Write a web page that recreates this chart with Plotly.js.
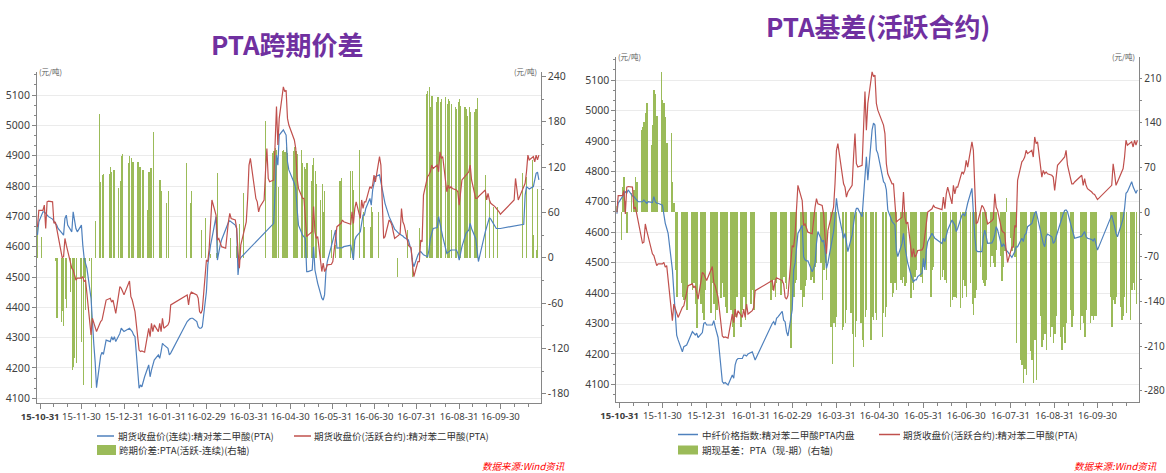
<!DOCTYPE html>
<html><head><meta charset="utf-8">
<script src="https://cdn.plot.ly/plotly-3.0.1.min.js"></script>
<style>html,body{margin:0;padding:0;background:#fff}#chart{width:1166px;height:473px}</style>
</head><body><div id="chart"></div>
<script>
// Week starts (Mondays) of the trading weeks shown; each data row = Mon..Fri of that week
const weekStarts = ['2015-10-26','2015-11-02','2015-11-09','2015-11-16','2015-11-23','2015-11-30','2015-12-07','2015-12-14','2015-12-21','2015-12-28',
'2016-01-04','2016-01-11','2016-01-18','2016-01-25','2016-02-01','2016-02-15','2016-02-22','2016-02-29','2016-03-07','2016-03-14','2016-03-21','2016-03-28',
'2016-04-04','2016-04-11','2016-04-18','2016-04-25','2016-05-02','2016-05-09','2016-05-16','2016-05-23','2016-05-30','2016-06-06','2016-06-13','2016-06-20','2016-06-27',
'2016-07-04','2016-07-11','2016-07-18','2016-07-25','2016-08-01','2016-08-08','2016-08-15','2016-08-22','2016-08-29','2016-09-05','2016-09-12','2016-09-19','2016-09-26',
'2016-10-10','2016-10-17','2016-10-24'];

// 期货收盘价(活跃合约):精对苯二甲酸(PTA)  (both charts)
const activeClose = [
[null,null,null,4665,4720],[4720,4737,4660,4748,4750],[4748,4677,4682,4660,4638],[4564,4567,4627,4605,4584],[4529,4523,4507,4490,4496],
[4496,4501,4485,4490,4450],[4309,4364,4347,4336,4320],[4353,4358,4380,4408,4424],[4430,4417,4424,4397,4380],[4468,4463,4452,4441,null],
[4487,4435,4424,4408,4386],[4259,4254,4256,4254,4252],[4331,4303,4347,4320,4342],[4320,4347,4320,4364,4331],[4342,4353,4408,null,null],
[4441,4408,4441,4450,4448],[4441,4430,4386,4380,4392],[4556,4551,4595,4682,4754],[4704,4622,4627,4616,4600],[4595,4649,4682,4710,4693],
[4688,4660,4584,4529,4605],[4671,4682,4759,4869,4891],[null,4759,4748,4715,4732],[4754,4847,4924,4825,4814],[4820,4935,5062,4935,5023],
[5127,5111,5116,5023,5001],[null,4952,4924,4825,4792],[4759,4759,4693,4633,4638],[4649,4732,4649,4627,4633],[4518,4546,4518,4526,4540],
[4542,4551,4589,4616,4666],[4677,4688,4682,null,null],[4674,4715,4677,4726,4748],[4693,4754,4726,4748,4748],[4798,4792,4803,4836,4814],
[4897,4869,4748,4627,4633],[4688,4682,4671,4649,4627],[4638,4644,4726,4682,4671],[4605,4600,4597,4540,4501],[4551,4551,4622,4616,4770],
[4831,4837,4847,4869,4858],[4869,4847,4913,4891,4897],[4781,4803,4792,4798,4792],[4787,4781,4737,4781,4820],[4836,4842,4847,4869,4820],
[4759,4759,4765,null,null],[4787,4754,4776,4754,4743],[4732,4726,4724,4715,4707],[4754,4825,4792,4754,4765],[4798,4809,4847,4902,4886],
[4897,4880,4902,4886,4902]];

// 期货收盘价(连续):精对苯二甲酸(PTA)
const continuousClose = [
[null,null,null,4638,4682],[4715,4715,4710,4704,4699],[4691,4682,4677,4671,4660],[4644,4638,4693,4704,4671],[4649,4715,4688,4660,4649],
[4671,4605,4562,4545,4529],[4430,4342,4280,4220,4135],[4240,4252,4245,4276,4292],[4287,4303,4292,4303,4287],[4314,4331,4325,4320,null],
[4331,4325,4320,4309,4303],[4133,4144,4138,4155,4171],[4210,4171,4193,4210,4226],[4243,4232,4254,4281,4276],[4265,4243,4249,null,null],
[4353,4358,4362,4364,4364],[4353,4336,4331,4331,4336],[4452,4540,4584,4605,4627],[4699,4556,4584,4605,4622],[4660,4671,4680,4685,4682],
[4671,4660,4507,4556,4564],[null,null,null,null,null],[null,null,null,null,null],[null,null,null,null,null],[4677,4781,4902,4869,4968],
[4985,4974,4968,4880,4853],[null,4809,4792,4726,4671],[4638,4633,4627,4518,4518],[4523,4600,4523,4496,4479],[4430,4424,4441,4518,4551],
[4605,4627,4644,4655,4595],[4595,4597,4600,null,null],[4605,4584,4556,4622,4633],[4649,4682,4704,4704,4726],[4759,4737,4787,4809,4831],
[4837,4814,4787,4759,4743],[4699,4688,4677,4666,4658],[4644,4642,4638,4635,4630],[4622,4605,4589,4551,4534],[4573,4581,4584,4578,4573],
[4567,4589,4627,4649,4660],[4663,4699,4677,4649,4633],[4578,4581,4586,4589,4589],[4589,4578,4556,4578,4600],[4644,4649,4655,4677,4660],
[4627,4589,4551,null,null],[4649,4666,4682,4696,4691],[4666,4660,4660,4660,4660],[null,null,null,null,null],[4674,4770,4798,4792,4790],
[4798,4820,4842,4846,4820]];

// 跨期价差:PTA(活跃-连续)(右轴)
const calendarSpread = [
[null,null,null,0,43],[28,0,0,0,0],[0,0,0,-5,-80],[-85,-71,-91,-54,-67],[-45,-149,-144,-133,-139],
[-27,-111,-168,-27,-69],[-5,-173,0,0,48],[190,100,109,111,0],[111,120,114,116,116],[92,101,134,137,null],
[125,135,132,127,127],[127,120,120,116,116],[63,114,119,119,167],[0,0,103,88,0],[72,88,0,null,null],
[125,0,0,73,88],[0,0,0,0,37],[52,0,0,0,5],[0,6,112,0,0],[0,0,0,0,26],
[0,0,15,0,44],[85,0,0,0,0],[null,0,0,0,0],[0,0,181,0,0],[138,141,145,142,93],
[141,142,140,147,139],[null,141,147,141,137],[142,125,120,118,125],[101,123,132,115,98],[76,98,61,88,0],
[0,37,0,0,17],[102,105,0,null,null],[0,115,115,89,0],[142,0,0,61,41],[0,41,67,61,0],
[61,0,0,0,0],[0,0,0,0,0],[-25,0,0,0,0],[37,0,0,0,-26],[0,0,39,0,0],
[217,220,226,200,214],[206,213,213,206,210],[213,204,210,208,204],[200,197,206,210,201],[200,197,188,200,193],
[193,197,211,null,null],[0,109,0,0,76],[67,0,0,67,0],[0,0,0,0,0],[112,0,0,107,0],
[129,30,0,10,91]];

// 中纤价格指数:精对苯二甲酸PTA内盘
const spotIndex = [
[null,null,null,4660,4695],[4717,4728,4733,4728,4739],[4719,4717,4711,4706,4700],[4700,4706,4700,4695,4700],[4697,4717,4700,4695,4695],
[4689,4651,4629,4613,4596],[4476,4410,4322,4262,4246],[4207,4224,4226,4229,4240],[4273,4268,4262,4268,4254],[4270,4300,4303,4295,null],
[4295,4309,4289,4268,4254],[4109,4103,4106,4103,4098],[4131,4120,4164,4180,4185],[4185,4196,4196,4193,4200],[4207,4191,4180,null,null],
[4300,4306,4295,4317,4322],[4340,4311,4306,4273,4259],[4345,4476,4498,4541,4596],[4623,4519,4509,4506,4506],[4470,4481,4498,4563,4602],
[4569,4574,4541,4481,4498],[4574,4602,4651,4711,4673],[null,4580,4596,4558,4536],[4591,4629,4662,4678,4678],[4651,4717,4782,4848,4771],
[4936,4958,4952,4870,4859],[null,4766,4760,4739,4673],[4635,4629,4624,4541,4520],[4563,4596,4552,4520,4498],[4448,4437,4443,4443,4454],
[4465,4514,4476,4541,4569],[4596,4585,4580,null,null],[4563,4580,4569,4585,4607],[4640,4629,4624,4602,4613],[4656,4660,4653,4673,4695],
[4744,4651,4585,4541,4536],[4536,4585,4607,4585,4563],[4565,4574,4591,4618,4607],[4552,4561,4555,4541,4536],[4517,4525,4536,4552,4552],
[4580,4569,4591,4596,4618],[4629,4645,4662,4668,4645],[4585,4563,4552,4585,4594],[4585,4563,4569,4585,4602],[4645,4660,4671,4673,4667],
[4613,4596,4580,null,null],[4587,4594,4602,4585,4580],[4576,4571,4580,4555,4541],[4656,4640,4618,4596,4585],[4629,4645,4678,4728,4733],
[4766,4749,4739,4728,4739]];

// 期现基差：PTA（现-期）(右轴)
const basis = [
[null,null,null,4,10],[-43,40,56,17,-33],[30,0,35,56,48],[129,134,142,155,171],[105,137,192,186,151],
[220,176,171,150,108],[124,48,14,-90,-132],[-111,-132,-137,-135,-153],[-114,-122,-111,-143,-182],[-143,-158,-169,-122,null],
[-158,-111,-143,-169,-153],[-135,-111,-132,-148,-158],[-153,-179,-195,-164,-132],[-179,-153,-132,-169,-148],[-143,-122,-153,null,null],
[-137,-122,-106,-132,-111],[-130,-111,-101,-111,-120],[-213,-137,-132,-111,-106],[-122,-148,-132,-116,-106],[-106,-101,-111,-85,-80],
[-80,-137,-90,-80,-106],[-179,-237,-174,-179,-164],[null,-184,-179,-174,-153],[-158,-190,-242,-195,-170],[-174,-200,-211,-164,-153],
[-200,-164,-169,-158,-169],[null,-195,-158,-164,-148],[-111,-132,-127,-111,-122],[-106,-111,-101,-116,-111],[-135,-111,-122,-101,-90],
[-101,-111,-85,-80,-90],[-132,-90,-85,null,null],[-106,-101,-90,-106,-111],[-148,-137,-132,-132,-135],[-150,-135,-106,-116,-132],
[-111,-143,-161,-135,-122],[-85,-106,-111,-116,-106],[-85,-69,-80,-85,-59],[-69,-108,-85,-60,22],[-40,-60,-55,-70,-205],
[-231,-240,-268,-245,-255],[-218,-231,-268,-200,-263],[-163,-211,-200,-190,-216],[-195,-180,-205,-190,-163],[-195,-216,-179,-205,-174],
[-153,-179,-163,null,null],[-184,-163,-174,-195,-153],[-174,-163,-169,-163,-163],[-132,-179,-137,-143,-132],[-148,-169,-163,-132,-158],
[-169,-122,-111,-122,-143]];

const monthTicks = ['2015-10-31','2015-11-30','2015-12-31','2016-01-31','2016-02-29','2016-03-31','2016-04-30','2016-05-31','2016-06-30','2016-07-31','2016-08-31','2016-09-30'];
const monthLabels = ['<b>15-10-31</b>','15-11-30','15-12-31','16-01-31','16-02-29','16-03-31','16-04-30','16-05-31','16-06-30','16-07-31','16-08-31','16-09-30'];
const axisEnd = '2016-10-31';
const leftTicks = [-180,-120,-60,0,60,120,180,240];
const rightTicks = [-280,-210,-140,-70,0,70,140,210];

const DAY = 86400000;
function expand(rows) {
  const x = [], y = [];
  rows.forEach((r, i) => {
    const t0 = Date.parse(weekStarts[i] + 'T00:00:00Z');
    r.forEach((v, j) => { x.push(new Date(t0 + j * DAY).toISOString().slice(0, 10)); y.push(v); });
  });
  return {x, y};
}
function minorTicks() {
  const all = monthTicks.concat([axisEnd]).map(d => Date.parse(d + 'T00:00:00Z'));
  const out = [];
  for (let i = 0; i < all.length - 1; i++) {
    const a = all[i], b = all[i + 1];
    out.push(new Date(a + (b - a) / 3).toISOString().slice(0, 16).replace('T', ' '));
    out.push(new Date(a + 2 * (b - a) / 3).toISOString().slice(0, 16).replace('T', ' '));
  }
  return out;
}

const BLUE = '#4F81BD', RED = '#C0504D', GREEN = '#9BBB59', AX = '#868686';
const sp = expand(calendarSpread), cc = expand(continuousClose), ac = expand(activeClose);
const sx = expand(spotIndex), bs = expand(basis);

const traces = [
  {type: 'bar', x: sp.x, y: sp.y, xaxis: 'x', yaxis: 'y', marker: {color: GREEN, line: {width: 0}},
   width: 0.8 * DAY, offset: -1.2 * DAY, name: '跨期价差:PTA(活跃-连续)(右轴)'},
  {type: 'scatter', mode: 'lines', x: cc.x, y: cc.y, xaxis: 'x', yaxis: 'y2', connectgaps: true,
   line: {color: BLUE, width: 1.2}, name: '期货收盘价(连续):精对苯二甲酸(PTA)'},
  {type: 'scatter', mode: 'lines', x: ac.x, y: ac.y, xaxis: 'x', yaxis: 'y2', connectgaps: true,
   line: {color: RED, width: 1.2}, name: '期货收盘价(活跃合约):精对苯二甲酸(PTA)'},
  {type: 'bar', x: bs.x, y: bs.y, xaxis: 'x2', yaxis: 'y3', marker: {color: GREEN, line: {width: 0}},
   width: 0.95 * DAY, offset: -1.3 * DAY, name: '期现基差：PTA（现-期）(右轴)'},
  {type: 'scatter', mode: 'lines', x: sx.x, y: sx.y, xaxis: 'x2', yaxis: 'y4', connectgaps: true,
   line: {color: BLUE, width: 1.2}, name: '中纤价格指数:精对苯二甲酸PTA内盘'},
  {type: 'scatter', mode: 'lines', x: ac.x, y: ac.y, xaxis: 'x2', yaxis: 'y4', connectgaps: true,
   line: {color: RED, width: 1.2}, name: '期货收盘价(活跃合约):精对苯二甲酸(PTA)'}
];

const NUMFONT = {family: 'Noto Sans, Noto Sans CJK SC, sans-serif', size: 10.5, color: '#404040'};
const RNUMFONT = {family: 'Noto Sans, Noto Sans CJK SC, sans-serif', size: 10, color: '#404040'};
const XFONT = {family: 'Noto Sans, Noto Sans CJK SC, sans-serif', size: 9.5, color: '#404040'};
const CJK = 'Noto Sans CJK SC, Noto Sans, sans-serif';
const range = ['2015-10-28 16:00', '2016-10-29 08:00'];
const mt = minorTicks();

function xax(domain, anchor) {
  return {domain, anchor, type: 'date', range, tickmode: 'array', tickvals: monthTicks, ticktext: monthLabels,
    ticks: 'outside', ticklen: 5, tickcolor: AX, showline: true, linecolor: AX, linewidth: 1, showgrid: false,
    zeroline: false, tickfont: XFONT, tickangle: 0,
    minor: {tickmode: 'array', tickvals: mt, ticks: 'outside', ticklen: 3, tickcolor: AX, showgrid: false}};
}
function barAx(domain, anchor, rng, vals, font, tlen) {
  const o = {anchor, side: 'right', range: rng, tickmode: 'array', tickvals: vals, ticktext: vals.map(String),
    ticks: 'outside', ticklen: tlen, tickcolor: AX, showline: true, linecolor: AX, showgrid: false, zeroline: false,
    tickfont: font,
    minor: {tickmode: 'linear', tick0: 0, dtick: (vals[1] - vals[0]) / 2, ticks: 'outside', ticklen: 2, tickcolor: AX, showgrid: false}};
  if (domain) o.domain = domain;
  return o;
}
function lineAx(over, anchor, rng) {
  return {overlaying: over, anchor, side: 'left', range: rng, tickmode: 'linear', tick0: 4100, dtick: 100,
    ticks: 'outside', ticklen: 4, tickcolor: AX, showline: true, linecolor: AX, showgrid: true,
    gridcolor: '#ebebeb', gridwidth: 1, zeroline: false, tickfont: NUMFONT,
    minor: {tickmode: 'linear', tick0: 4100, dtick: 100 / 3, ticks: 'outside', ticklen: 2.5, tickcolor: AX, showgrid: false}};
}

const W = 1166, H = 473;
const px = x => x / W, py = y => 1 - y / H;
function txt(x, y, t, opt) {
  return Object.assign({xref: 'paper', yref: 'paper', x: px(x), y: py(y), text: t, showarrow: false,
    xanchor: 'left', yanchor: 'middle', font: {family: CJK, size: 9.5, color: '#333333'}}, opt || {});
}
function lineShape(x0, x1, y, c) {
  return {type: 'line', xref: 'paper', yref: 'paper', x0: px(x0), x1: px(x1), y0: py(y), y1: py(y), line: {color: c, width: 1.5}};
}
function rectShape(x0, x1, y0, y1) {
  return {type: 'rect', xref: 'paper', yref: 'paper', x0: px(x0), x1: px(x1), y0: py(y1), y1: py(y0), fillcolor: GREEN, line: {width: 0}};
}
const titleFont = {family: CJK, size: 26, color: '#7030A0', weight: 'bold'};
const unitFont = {family: CJK, size: 7.5, color: '#595959'};
const srcFont = {family: CJK, size: 9.5, color: '#FF0000', style: 'italic'};

const layout = {
  width: W, height: H, margin: {l: 0, r: 0, t: 0, b: 0}, paper_bgcolor: '#ffffff', plot_bgcolor: '#ffffff',
  showlegend: false, hovermode: false, bargap: 0,
  xaxis: xax([37 / W, 540.7 / W], 'y'),
  yaxis: barAx([1 - 403 / H, 1 - 71.7 / H], 'x', [-192.3, 246.2], leftTicks, NUMFONT, 4),
  yaxis2: lineAx('y', 'x', [4084.5, 5177]),
  xaxis2: xax([616.3 / W, 1139.3 / W], 'y3'),
  yaxis3: barAx([1 - 401.7 / H, 1 - 56.7 / H], 'x2', [-296.8, 243.8], rightTicks, RNUMFONT, 2),
  yaxis4: lineAx('y3', 'x2', [4043, 5176.6]),
  annotations: [
    txt(287.5, 43, 'PTA跨期价差', {xanchor: 'center', font: titleFont}),
    txt(877.5, 26, 'PTA基差(活跃合约)', {xanchor: 'center', font: titleFont}),
    txt(37, 71, '(元/吨)', {font: unitFont}),
    txt(539, 71, '(元/吨)', {xanchor: 'right', font: unitFont}),
    txt(616, 56, '(元/吨)', {font: unitFont}),
    txt(1137, 56, '(元/吨)', {xanchor: 'right', font: unitFont}),
    txt(116, 436, '期货收盘价(连续):精对苯二甲酸(PTA)'),
    txt(312, 436, '期货收盘价(活跃合约):精对苯二甲酸(PTA)'),
    txt(117, 450, '跨期价差:PTA(活跃-连续)(右轴)'),
    txt(700, 434.5, '中纤价格指数:精对苯二甲酸PTA内盘'),
    txt(901, 434.5, '期货收盘价(活跃合约):精对苯二甲酸(PTA)'),
    txt(700, 450, '期现基差：PTA（现-期）(右轴)'),
    txt(567, 466, '数据来源:Wind资讯', {xanchor: 'right', font: srcFont}),
    txt(1159, 466, '数据来源:Wind资讯', {xanchor: 'right', font: srcFont})
  ],
  shapes: [
    lineShape(97, 114, 436, BLUE), lineShape(294, 311, 436, RED), rectShape(97, 116, 445, 455),
    lineShape(678, 698, 434.5, BLUE), lineShape(879, 900, 434.5, RED), rectShape(678, 698, 445.5, 454.5)
  ]
};

Plotly.newPlot('chart', traces, layout, {staticPlot: true, displayModeBar: false});
</script>
</body></html>
